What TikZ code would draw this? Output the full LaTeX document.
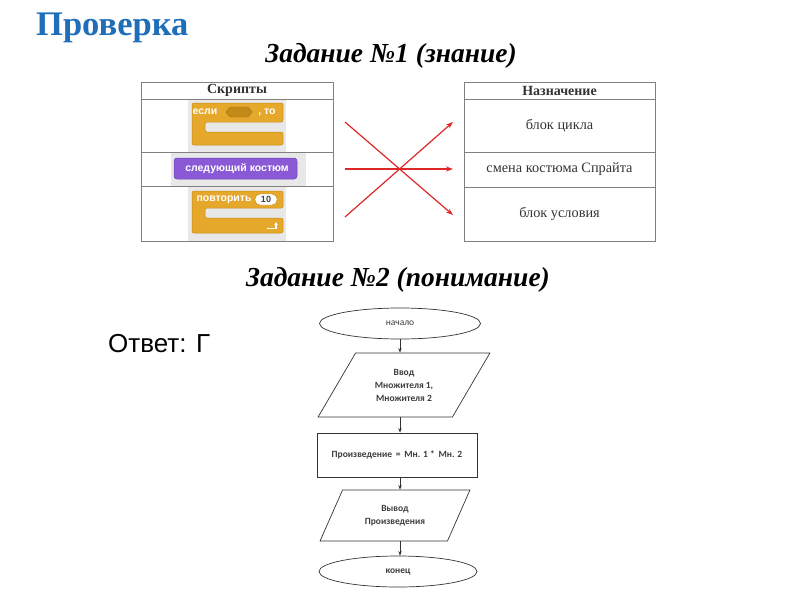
\documentclass[tikz,border=0pt]{standalone}
\usepackage{fontspec}
\setmainfont{Liberation Serif}
\newfontfamily\arialf{Liberation Sans}
\newfontfamily\calib{Carlito}
\usetikzlibrary{shapes.geometric,arrows.meta}
\definecolor{titleblue}{RGB}{30,110,185}
\definecolor{scrorange}{RGB}{230,168,42}
\definecolor{scrorangedk}{RGB}{196,138,24}
\definecolor{scrpurple}{RGB}{138,90,214}
\definecolor{scrpurpledk}{RGB}{110,66,186}
\definecolor{scrgrey}{RGB}{232,232,232}
\definecolor{tabline}{RGB}{128,128,128}
\definecolor{arrred}{RGB}{222,40,40}
\definecolor{fctext}{RGB}{60,60,60}
\tikzset{
  cell/.style={draw=tabline, line width=0.8pt, inner sep=0pt, font=\fontsize{14.3}{16}\selectfont, text=black!80},
  headcell/.style={cell, font=\fontsize{14}{15}\selectfont\bfseries},
  redarr/.style={draw=arrred, line width=1.2pt, -{Stealth[length=7pt,width=5pt]}},
  fcline/.style={draw=black!80, line width=0.7pt},
  fcarr/.style={fcline, -{Stealth[length=4.5pt,width=3.5pt]}},
  fcell/.style={ellipse, fcline, inner sep=0pt, font=\calib\fontsize{9.5}{11}\selectfont, text=fctext},
  fcpara/.style={trapezium, trapezium stretches=true, fcline, inner sep=0pt, align=center, font=\calib\fontsize{9.5}{13}\selectfont\bfseries, text=fctext},
  fcrect/.style={rectangle, fcline, inner sep=0pt, font=\calib\fontsize{9.5}{11}\selectfont\bfseries, text=fctext},
  scrtext/.style={text=white, font=\arialf\fontsize{10.5}{11}\selectfont\bfseries, inner sep=0pt},
  heading/.style={font=\fontsize{27.5}{30}\selectfont\bfseries\itshape, inner sep=0pt}
}
\begin{document}
\begin{tikzpicture}[x=1pt,y=-1pt]
\useasboundingbox (0,0) rectangle (800,600);
% title
\node[anchor=base west, inner sep=0pt, text=titleblue, font=\fontsize{34.5}{38}\selectfont\bfseries] (title) at (36,35.5) {Проверка};
\node[heading, anchor=base] (task1) at (391,62) {Задание №1 (знание)};
% left table
\node[headcell, minimum width=192pt, minimum height=17pt] (lh) at (237,90.5) {Скрипты};
\node[cell, minimum width=192pt, minimum height=53pt] (l1) at (237,125.5) {};
\node[cell, minimum width=192pt, minimum height=34pt] (l2) at (237,169) {};
\node[cell, minimum width=192pt, minimum height=55pt] (l3) at (237,213.5) {};
% grey backgrounds
\fill[scrgrey] (188,99.5) rectangle (286,151.5);
\fill[scrgrey] (171,152.5) rectangle (306,185.5);
\fill[scrgrey] (188,186.5) rectangle (286,240.5);
% if block
\filldraw[fill=scrorange, draw=scrorangedk, line width=0.5pt, rounded corners=2pt]
  (192,103) -- (283,103) -- (283,122) -- (205,122) -- (205,132) -- (283,132) -- (283,145) -- (192,145) -- cycle;
\filldraw[fill=scrorangedk, draw=scrorangedk!80!black, line width=0.4pt]
  (226,112) -- (230,107) -- (248,107) -- (252,112) -- (248,117) -- (230,117) -- cycle;
\node[scrtext] (ifw) at (205,112) {если};
\node[scrtext] (thenw) at (267,112) {, то};
% costume block
\filldraw[fill=scrpurple, draw=scrpurpledk, line width=0.5pt, rounded corners=3pt] (174,158) rectangle (297,179);
\node[scrtext] (costw) at (237,168.5) {следующий костюм};
% repeat block
\filldraw[fill=scrorange, draw=scrorangedk, line width=0.5pt, rounded corners=2pt]
  (192,191) -- (283,191) -- (283,208) -- (205,208) -- (205,218) -- (283,218) -- (283,233) -- (192,233) -- cycle;
\node[scrtext] (repw) at (224,199.5) {повторить};
\node[draw=scrorangedk, fill=white, rounded corners=5pt, minimum width=22pt, minimum height=11pt, inner sep=0pt, text=black!75, font=\arialf\fontsize{9}{10}\selectfont\bfseries] (ten) at (266,199.5) {10};
\draw[white, line width=1.2pt, -{Stealth[length=3pt,width=3.5pt]}] (267,228.5) -- (276,228.5) -- (276,222);
% right table
\node[headcell, minimum width=191pt, minimum height=17pt] (rh) at (559.5,90.5) {Назначение};
\node[cell, minimum width=191pt, minimum height=53pt] (r1) at (559.5,125.5) {блок цикла};
\node[cell, minimum width=191pt, minimum height=35pt] (r2) at (559.5,169.5) {смена костюма Спрайта};
\node[cell, minimum width=191pt, minimum height=54pt] (r3) at (559.5,214) {блок условия};
% red arrows
\coordinate (a1s) at (345,122);
\coordinate (a1e) at (453,215);
\coordinate (a2s) at (345,169);
\coordinate (a2e) at (453,169);
\coordinate (a3s) at (345,217);
\coordinate (a3e) at (453,122);
\draw[redarr] (a1s) -- (a1e);
\draw[redarr] (a2s) -- (a2e);
\draw[redarr] (a3s) -- (a3e);
% task 2
\node[heading, anchor=base] (task2) at (398,286) {Задание №2 (понимание)};
\node[anchor=base west, inner sep=0pt, font=\arialf\fontsize{26}{28}\selectfont] (answer) at (108,352) {Ответ: Г};
% flowchart
\node[fcell, minimum width=161pt, minimum height=31pt] (start) at (400,323.5) {начало};
\node[fcpara, trapezium left angle=55, trapezium right angle=125, minimum width=172pt, minimum height=64pt] (in) at (404,385) {Ввод\\Множителя 1,\\Множителя 2};
\node[fcrect, minimum width=160pt, minimum height=44pt] (proc) at (397,455) {Произведение \,=\, Мн. 1 * \,Мн. 2};
\node[fcpara, trapezium left angle=58, trapezium right angle=122, minimum width=150pt, minimum height=51pt] (out) at (395,515.5) {Вывод\\Произведения};
\node[fcell, font=\calib\fontsize{9.5}{11}\selectfont\bfseries, minimum width=158pt, minimum height=31pt] (end) at (398,571.5) {конец};
\draw[fcarr] (start.south) -- (start.south |- in.north);
\draw[fcarr] (start.south |- in.south) -- (start.south |- proc.north);
\draw[fcarr] (start.south |- proc.south) -- (start.south |- out.north);
\draw[fcarr] (start.south |- out.south) -- (start.south |- end.north);
\end{tikzpicture}
\end{document}
